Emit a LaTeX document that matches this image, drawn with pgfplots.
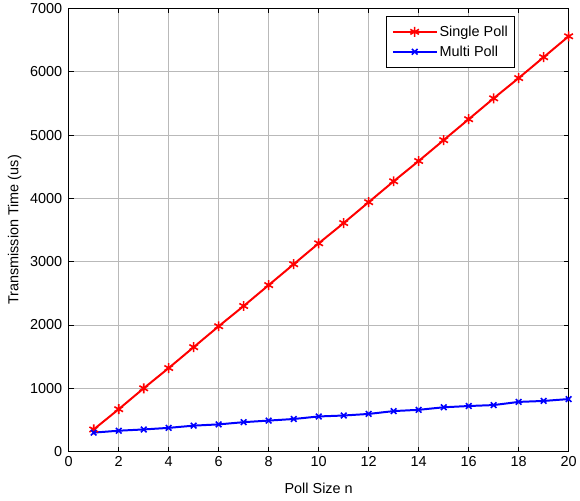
\documentclass[border=0pt]{standalone}
\usepackage{fontspec}
\setmainfont{Liberation Sans}
\usepackage{pgfplots}
\pgfplotsset{compat=1.18}

\begin{document}
\begin{tikzpicture}
\begin{axis}[
  scale only axis,
  width=502pt, height=445pt,
  xmin=0, xmax=20, ymin=0, ymax=7000,
  xtick={0,2,...,20},
  ytick={0,1000,...,7000},
  tick align=inside,
  major tick length=5pt,
  tick style={black, line width=0.8pt},
  axis line style={black, line width=1pt},
  grid=major,
  grid style={gray!55, line width=0.7pt},
  /pgf/number format/assume math mode=true,
  scaled y ticks=false,
  yticklabel style={/pgf/number format/fixed, /pgf/number format/1000 sep={}, xshift=-3pt},
  xticklabel style={yshift=-1pt},
  tick label style={font=\fontsize{14.5}{17}\selectfont},
  label style={font=\fontsize{14.5}{17}\selectfont},
  xlabel={Poll Size n},
  ylabel={Transmission Time (us)},
  xlabel style={at={(axis description cs:0.5,-0.083)}, anchor=center},
  ylabel style={at={(axis description cs:-0.108,0.5)}, anchor=center},
  legend cell align=left,
  legend style={at={(0.893,0.984)}, anchor=north east,
    font=\fontsize{14.5}{17}\selectfont, draw=black, line width=0.8pt,
    inner xsep=5pt, inner ysep=8pt, row sep=4pt},
  legend image code/.code={
    \draw[mark repeat=2,mark phase=2] plot coordinates {(0pt,0pt) (22pt,0pt) (44pt,0pt)};},
]
\addplot[red, line width=2pt, mark=asterisk, mark size=5pt,
  mark options={line width=1.6pt}] coordinates {
 (1,350) (2,670) (3,1000) (4,1320) (5,1650) (6,1980) (7,2300) (8,2630)
 (9,2960) (10,3290) (11,3610) (12,3940) (13,4270) (14,4590) (15,4920)
 (16,5250) (17,5580) (18,5900) (19,6230) (20,6560)};
\addlegendentry{Single Poll}
\addplot[blue, line width=2pt, mark=x, mark size=4pt,
  mark options={line width=1.6pt}] coordinates {
 (1,300) (2,330) (3,350) (4,375) (5,410) (6,430) (7,465) (8,490)
 (9,515) (10,555) (11,570) (12,595) (13,640) (14,660) (15,700)
 (16,720) (17,735) (18,785) (19,800) (20,830)};
\addlegendentry{Multi Poll}
\end{axis}
% fix the page to the reference margins around the axis box
\path ([xshift=-69pt,yshift=-49pt]current axis.south west)
      ([xshift=8pt,yshift=8pt]current axis.north east);
\end{tikzpicture}
\end{document}
